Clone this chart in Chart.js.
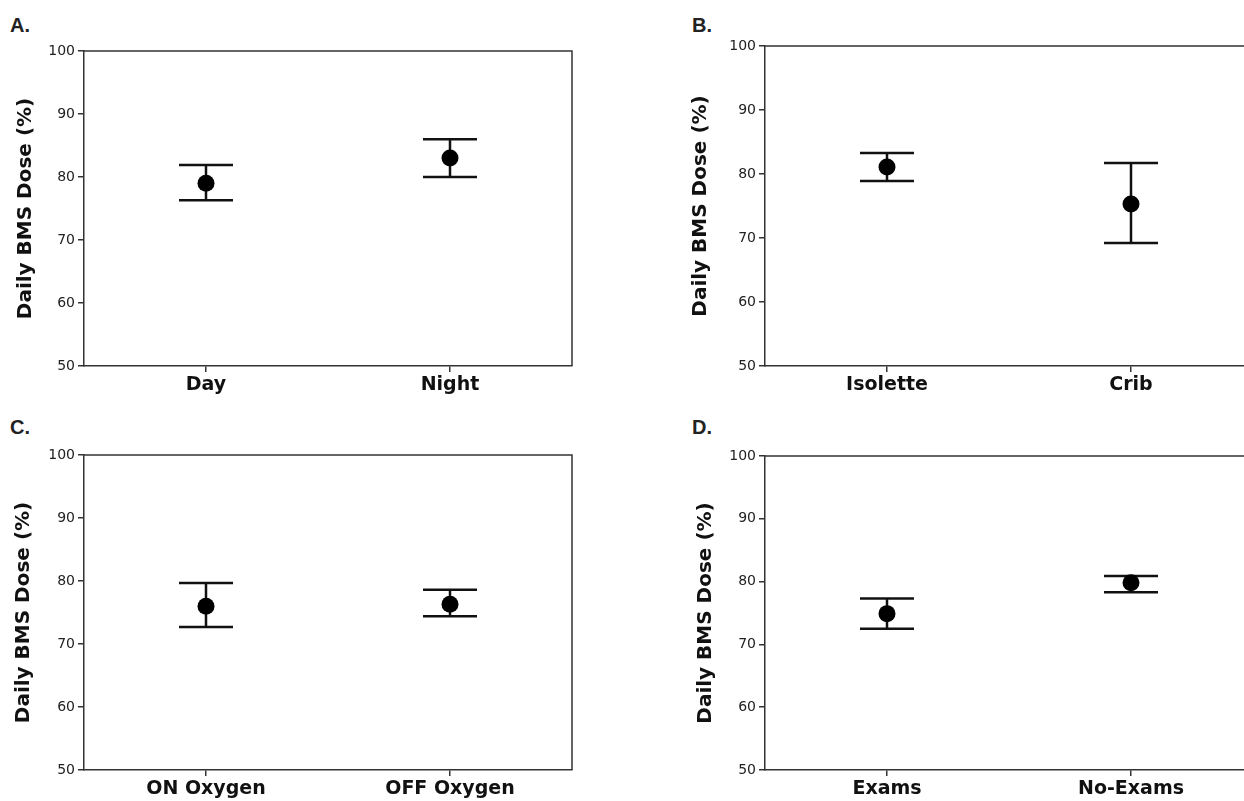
<!DOCTYPE html>
<html>
<head>
<meta charset="utf-8">
<script src="https://cdn.jsdelivr.net/npm/chart.js@4.4.1/dist/chart.umd.min.js"></script>
<style>
    body { margin: 0; width: 1244px; height: 801px; overflow: hidden; background: #fff; position: relative; }
    canvas { position: absolute; }
    .tag { position: absolute; font: bold 20px "Liberation Sans", Arial, sans-serif; color: #222; line-height: 20px; }
</style>
</head>
<body>
<div class="tag" style="left:10px;top:15px">A.</div>
<div class="tag" style="left:692px;top:15px">B.</div>
<div class="tag" style="left:10px;top:417px">C.</div>
<div class="tag" style="left:692px;top:417px">D.</div>
<canvas id="chartA" width="640" height="410" style="left:0;top:0"></canvas>
<canvas id="chartB" width="640" height="410" style="left:681px;top:0"></canvas>
<canvas id="chartC" width="640" height="401" style="left:0;top:400px"></canvas>
<canvas id="chartD" width="640" height="401" style="left:681px;top:400px"></canvas>
<script>
// A. time of day
const dayNightLabels = ['Day', 'Night'];
const dayNightMean = [79.0, 83.0];
const dayNightLower = [76.3, 80.0];
const dayNightUpper = [81.9, 86.0];

// B. bed type
const bedLabels = ['Isolette', 'Crib'];
const bedMean = [81.1, 75.3];
const bedLower = [78.9, 69.2];
const bedUpper = [83.3, 81.7];

// C. oxygen
const oxygenLabels = ['ON Oxygen', 'OFF Oxygen'];
const oxygenMean = [76.0, 76.3];
const oxygenLower = [72.7, 74.4];
const oxygenUpper = [79.7, 78.6];

// D. exams
const examLabels = ['Exams', 'No-Exams'];
const examMean = [74.9, 79.8];
const examLower = [72.5, 78.3];
const examUpper = [77.3, 80.9];

const yTicks = [50, 60, 70, 80, 90, 100];
const axisTitle = 'Daily BMS Dose (%)';

const ink = '#111';
const axisColor = '#333';

// top and right edges of the box
const boxPlugin = {
    id: 'box',
    afterDraw(chart) {
        const { ctx, chartArea: a } = chart;
        ctx.save();
        ctx.strokeStyle = axisColor;
        ctx.lineWidth = 1.5;
        ctx.beginPath();
        ctx.moveTo(a.left, a.top);
        ctx.lineTo(a.right, a.top);
        ctx.lineTo(a.right, a.bottom);
        ctx.stroke();
        ctx.restore();
    }
};

const makePanel = (id, labels, mean, lower, upper, padTop, xHeight, titlePad) => {
    const whiskers = labels.map((lab, i) => ({
        type: 'line',
        data: [{ x: lab, y: lower[i] }, { x: lab, y: upper[i] }],
        borderColor: ink,
        borderWidth: 2.5,
        pointRadius: 0,
        order: 3
    }));

    const caps = {
        type: 'line',
        showLine: false,
        data: labels.map((lab, i) => ({ x: lab, y: upper[i] }))
            .concat(labels.map((lab, i) => ({ x: lab, y: lower[i] }))),
        pointStyle: 'line',
        pointRadius: 27,
        pointBorderWidth: 2.5,
        pointBorderColor: ink,
        order: 2
    };

    const means = {
        type: 'line',
        showLine: false,
        data: labels.map((lab, i) => ({ x: lab, y: mean[i] })),
        pointStyle: 'circle',
        pointRadius: 8.5,
        pointBackgroundColor: '#000',
        pointBorderColor: '#000',
        pointBorderWidth: 0,
        order: 1
    };

    return new Chart(document.getElementById(id), {
        type: 'line',
        data: { labels: labels, datasets: [...whiskers, caps, means] },
        options: {
            responsive: false,
            animation: false,
            devicePixelRatio: 1,
            layout: { padding: { left: 0, right: 68, top: padTop, bottom: 0 } },
            plugins: { legend: { display: false }, tooltip: { enabled: false } },
            scales: {
                x: {
                    type: 'category',
                    offset: true,
                    afterFit: s => { s.height = xHeight; },
                    grid: { display: true, drawOnChartArea: false, drawTicks: true, tickLength: 6, offset: false, color: axisColor, lineWidth: 1.5 },
                    border: { display: true, color: axisColor, width: 1.5 },
                    ticks: { color: '#111', padding: 2, font: { family: 'DejaVu Sans', size: 19, weight: 'bold' } }
                },
                y: {
                    min: 50,
                    max: 100,
                    afterFit: s => { s.width = 84; },
                    afterBuildTicks: s => { s.ticks = yTicks.map(v => ({ value: v })); },
                    grid: { display: true, drawOnChartArea: false, drawTicks: true, tickLength: 6, color: axisColor, lineWidth: 1.5 },
                    border: { display: true, color: axisColor, width: 1.5 },
                    ticks: { color: '#222', padding: 3, font: { family: 'DejaVu Sans', size: 14 } },
                    title: {
                        display: true,
                        text: axisTitle,
                        color: '#111',
                        padding: { top: titlePad, bottom: 0 },
                        font: { family: 'DejaVu Sans', size: 20, weight: 'bold' }
                    }
                }
            }
        },
        plugins: [boxPlugin]
    });
};

makePanel('chartA', dayNightLabels, dayNightMean, dayNightLower, dayNightUpper, 51, 44, 14);
makePanel('chartB', bedLabels, bedMean, bedLower, bedUpper, 46, 44, 8);
makePanel('chartC', oxygenLabels, oxygenMean, oxygenLower, oxygenUpper, 55, 31, 12);
makePanel('chartD', examLabels, examMean, examLower, examUpper, 56, 31, 13);
</script>
</body>
</html>
